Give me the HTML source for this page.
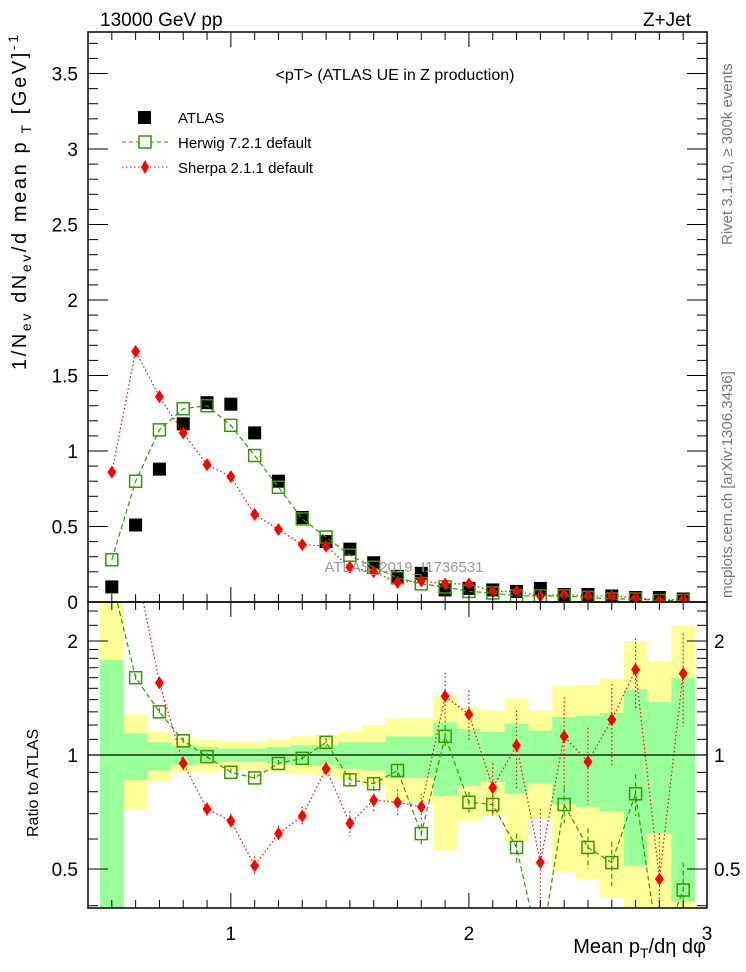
<!DOCTYPE html>
<html><head><meta charset="utf-8"><style>
body{margin:0;background:#fff;}
svg{display:block;font-family:"Liberation Sans",sans-serif;}
</style></head><body>
<svg id="c" width="746" height="972" viewBox="0 0 746 972">
<defs>
<clipPath id="cm"><rect x="88" y="32" width="619" height="570"/></clipPath>
<clipPath id="cr"><rect x="88" y="602" width="619" height="306"/></clipPath>
</defs>
<g id="bands" clip-path="url(#cr)"></g>
<g id="ratio" clip-path="url(#cr)"></g>
<g id="main" clip-path="url(#cm)"></g>
<g id="axes"></g>
<text x="100" y="26" font-size="19">13000 GeV pp</text>
<text x="691" y="26" font-size="19" text-anchor="end">Z+Jet</text>
<text x="395" y="80" font-size="16" text-anchor="middle">&lt;pT&gt;  (ATLAS UE in Z production)</text>
<text x="404" y="572" font-size="15" fill="#999" text-anchor="middle">ATLAS_2019_I1736531</text>
<g>
<rect x="138" y="111" width="13" height="13" fill="#000"/>
<text x="178" y="123" font-size="15">ATLAS</text>
<line x1="122" y1="142" x2="168" y2="142" stroke="#339900" stroke-dasharray="4,3"/>
<rect x="139" y="136" width="12" height="12" fill="#fff" stroke="#339900" stroke-width="1.5"/>
<text x="178" y="148" font-size="15">Herwig 7.2.1 default</text>
<line x1="122" y1="167" x2="168" y2="167" stroke="#f00" stroke-dasharray="1.5,2.5"/>
<polygon points="145,160 149,167 145,174 141,167" fill="#f00"/>
<text x="178" y="173" font-size="15">Sherpa 2.1.1 default</text>
</g>
<text transform="translate(732,245) rotate(-90)" font-size="15" fill="#777">Rivet 3.1.10, ≥ 300k events</text>
<text transform="translate(732,598) rotate(-90)" font-size="15" fill="#777">mcplots.cern.ch [arXiv:1306.3436]</text>
<text transform="translate(26,370) rotate(-90)" font-size="20" textLength="335" lengthAdjust="spacing">1/N<tspan font-size="14" dy="5">ev</tspan><tspan dy="-5"> dN</tspan><tspan font-size="14" dy="5">ev</tspan><tspan dy="-5">/d mean p</tspan><tspan font-size="14" dy="5"> T</tspan><tspan dy="-5">  [GeV]</tspan><tspan font-size="14" dy="-8">-1</tspan></text>
<text transform="translate(38,837) rotate(-90)" font-size="16">Ratio to ATLAS</text>
<text x="706" y="953" font-size="20" text-anchor="end">Mean p<tspan font-size="14" dy="5">T</tspan><tspan dy="-5">/dη dφ</tspan></text>
</svg>
<script>
const xVals=[0.5,0.6,0.7,0.8,0.9,1.0,1.1,1.2,1.3,1.4,1.5,1.6,1.7,1.8,1.9,2.0,2.1,2.2,2.3,2.4,2.5,2.6,2.7,2.8,2.9];
const atlas=[0.10,0.51,0.88,1.18,1.32,1.31,1.12,0.80,0.56,0.40,0.35,0.26,0.17,0.19,0.08,0.09,0.08,0.07,0.09,0.05,0.05,0.04,0.03,0.03,0.02];
const herwig=[0.28,0.80,1.14,1.28,1.30,1.17,0.97,0.76,0.55,0.43,0.31,0.23,0.16,0.12,0.10,0.07,0.06,0.04,0.04,0.04,0.03,0.02,0.02,0.01,0.01];
const sherpa=[0.86,1.66,1.36,1.12,0.91,0.83,0.58,0.48,0.38,0.37,0.23,0.20,0.13,0.14,0.12,0.12,0.07,0.07,0.04,0.05,0.04,0.04,0.03,0.01,0.02];
const herwigRatio=[2.9,1.60,1.30,1.09,0.99,0.90,0.87,0.95,0.98,1.08,0.86,0.84,0.91,0.62,1.12,0.75,0.74,0.57,0.30,0.74,0.57,0.52,0.79,0.30,0.44];
const sherpaRatio=[8.0,3.2,1.55,0.95,0.72,0.67,0.51,0.62,0.69,0.92,0.66,0.76,0.75,0.73,1.43,1.28,0.82,1.06,0.52,1.12,0.96,1.24,1.68,0.47,1.64];
const herwigRatioErr=[0.1,0.03,0.03,0.02,0.02,0.02,0.02,0.02,0.02,0.03,0.03,0.03,0.03,0.04,0.08,0.05,0.05,0.05,0.05,0.08,0.07,0.07,0.10,0.1,0.08];
const sherpaRatioErr=[0.3,0.1,0.05,0.04,0.03,0.03,0.03,0.03,0.04,0.04,0.05,0.05,0.06,0.06,0.22,0.2,0.13,0.25,0.2,0.3,0.22,0.3,0.35,0.15,0.45];
const bandYHi=[3.0,1.28,1.15,1.11,1.10,1.09,1.09,1.10,1.12,1.13,1.15,1.20,1.25,1.25,1.44,1.34,1.31,1.41,1.31,1.52,1.53,1.59,2.0,1.77,2.19];
const bandGHi=[1.78,1.14,1.08,1.06,1.05,1.04,1.04,1.05,1.06,1.06,1.08,1.08,1.12,1.12,1.22,1.17,1.15,1.21,1.16,1.26,1.27,1.29,1.49,1.38,1.60];
const bandGLo=[0.3,0.86,0.91,0.94,0.95,0.96,0.96,0.95,0.94,0.94,0.92,0.91,0.87,0.87,0.78,0.83,0.85,0.79,0.84,0.74,0.73,0.71,0.51,0.62,0.41];
const bandYLo=[0.3,0.72,0.85,0.90,0.90,0.91,0.91,0.90,0.89,0.88,0.86,0.83,0.75,0.75,0.56,0.67,0.69,0.59,0.68,0.49,0.47,0.42,0.3,0.3,0.3];
const mainYTicks=["0","0.5","1","1.5","2","2.5","3","3.5"];
const xTicks=["1","2","3"];
const ratioTicks=["0.5","1","2"];

const NS="http://www.w3.org/2000/svg";
const X0=88,X1=707,XMIN=0.4,XMAX=3.0;
const MY0=602,MY1=32,MYMAX=3.775;
const RY0=602,RY1=908,RC=755,RS=114;
const sx=v=>X0+(v-XMIN)/(XMAX-XMIN)*(X1-X0);
const sy=v=>MY0-v/MYMAX*(MY0-MY1);
const ry=r=>RC-Math.log2(r)*RS;
function mk(t,a,p){const e=document.createElementNS(NS,t);for(const k in a)e.setAttribute(k,a[k]);p.appendChild(e);return e;}
const gB=document.getElementById('bands'),gR=document.getElementById('ratio'),gM=document.getElementById('main'),gA=document.getElementById('axes');

xVals.forEach((x,i)=>{
 const l=sx(x-0.05),w=sx(x+0.05)-l;
 let r=mk('rect',{x:l,y:ry(bandYHi[i]),width:w,height:ry(bandYLo[i])-ry(bandYHi[i]),fill:'#ffff99'},gB);
 
 
 r=mk('rect',{x:l,y:ry(bandGHi[i]),width:w,height:ry(bandGLo[i])-ry(bandGHi[i]),fill:'#99ff99'},gB);
 
 
});
let ref=mk('line',{x1:X0,x2:X1,y1:ry(1),y2:ry(1),stroke:'#000','stroke-width':1.2},gB);



function series(g,vals,fy,errs,color,dash,kind,name){
 const pl=mk('polyline',{points:xVals.map((x,i)=>sx(x)+','+fy(vals[i])).join(' '),fill:'none',stroke:color,'stroke-width':1.2,'stroke-dasharray':dash},g);
 
 
 xVals.forEach((x,i)=>{
  const cx=sx(x),cy=fy(vals[i]);
  if(errs){const e=mk('line',{x1:cx,x2:cx,y1:fy(vals[i]+errs[i]),y2:fy(Math.max(vals[i]-errs[i],0.01)),stroke:color,'stroke-width':1.2,'stroke-dasharray':dash},g);
   
   }
  let m;
  if(kind==='open') m=mk('rect',{x:cx-6,y:cy-6,width:12,height:12,fill:'none',stroke:color,'stroke-width':1.5},g);
  else if(kind==='diamond') m=mk('polygon',{points:`${cx},${cy-6.5} ${cx+4.5},${cy} ${cx},${cy+6.5} ${cx-4.5},${cy}`,fill:color},g);
  else m=mk('rect',{x:cx-6.5,y:cy-6.5,width:13,height:13,fill:color},g);
  
  
 });
}
series(gR,herwigRatio,ry,herwigRatioErr,'#339900','5,3','open','herwig-ratio');
series(gR,sherpaRatio,ry,sherpaRatioErr,'#ff0000','1.5,2.5','diamond','sherpa-ratio');
xVals.forEach((x,i)=>{const m=mk('rect',{x:sx(x)-6.5,y:sy(atlas[i])-6.5,width:13,height:13,fill:'#000'},gM);
 
 });
series(gM,herwig,sy,null,'#339900','5,3','open','herwig');
series(gM,sherpa,sy,null,'#ff0000','1.5,2.5','diamond','sherpa');

[[MY1,MY0],[RY0,RY1]].forEach(([a,b])=>{const f=mk('rect',{x:X0,y:a,width:X1-X0,height:b-a,fill:'none',stroke:'#000','stroke-width':1.5},gA);
 
 });
function tk(x1,y1,x2,y2){const t=mk('line',{x1,y1,x2,y2,stroke:'#000','stroke-width':1},gA);
 
 }
for(let k=5;k<=29;k++){const v=k/10,X=sx(v),maj=k%10===0,L=maj?15:8;
 tk(X,MY0,X,MY0-L);tk(X,MY1,X,MY1+L);tk(X,RY1,X,RY1-L);tk(X,RY0,X,RY0+L);}
xTicks.forEach(s=>{const t=mk('text',{x:sx(+s),y:940,'font-size':19,'text-anchor':'middle'},gA);t.textContent=s;
 
 });
for(let k=0;k<=37;k++){const v=k/10,Y=sy(v),maj=k%5===0,L=maj?20:10;tk(X0,Y,X0+L,Y);tk(X1,Y,X1-L,Y);}
mainYTicks.forEach(s=>{const t=mk('text',{x:78,y:sy(+s)+7,'font-size':19,'text-anchor':'end'},gA);t.textContent=s;
 
 });
[0.4,0.5,0.6,0.7,0.8,0.9,1,1.1,1.2,1.3,1.4,1.5,1.6,1.7,1.8,1.9,2,2.2,2.4].forEach(v=>{const Y=ry(v);if(Y<RY0||Y>RY1)return;
 const maj=(v===0.5||v===1||v===2),L=maj?20:10;tk(X0,Y,X0+L,Y);tk(X1,Y,X1-L,Y);});
ratioTicks.forEach(s=>{let t=mk('text',{x:78,y:ry(+s)+7,'font-size':19,'text-anchor':'end'},gA);t.textContent=s;
 
 
 t=mk('text',{x:714,y:ry(+s)+7,'font-size':19},gA);t.textContent=s;
 
 });
</script>
</body></html>
